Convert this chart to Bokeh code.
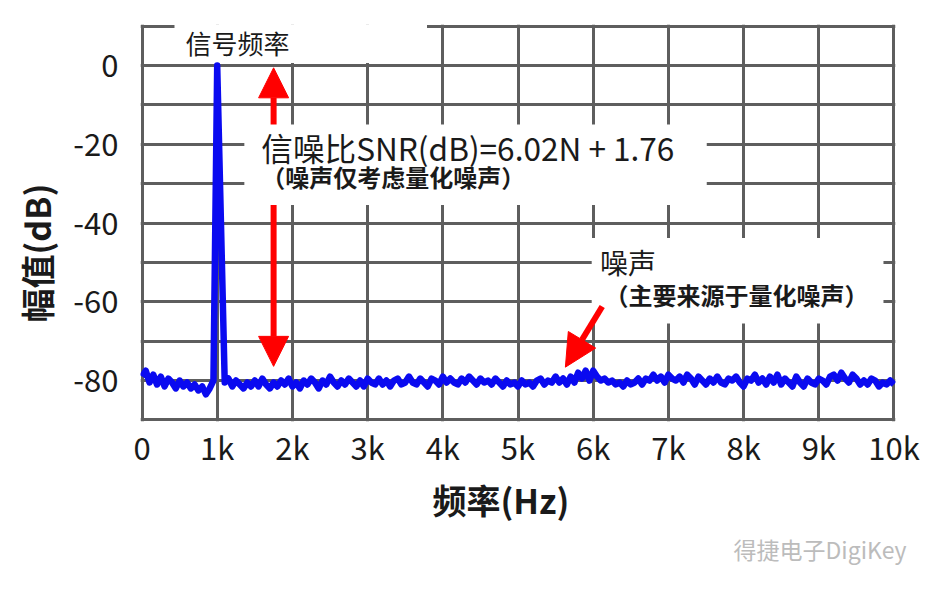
from bokeh.plotting import figure
from bokeh.models import FixedTicker, Label, Arrow, NormalHead, Range1d, Title
from bokeh.embed import file_html
from bokeh.resources import INLINE

# ---------------- data ----------------
freq_hz = list(range(0, 10001, 50))
amplitude_db = (
    [-79.0, -77.5, -80.5, -78.5, -81.0, -79.0, -81.5, -79.5, -80.5, -82.0,
     -80.0, -81.5, -80.5, -82.0, -81.0, -82.5, -81.5, -83.5, -82.0, -80.0]
    + [0.0, -40.0, -80.5]
    + [-79.5, -81.5, -80.0, -81.0, -82.0, -80.5, -81.5, -80.0, -81.5, -79.5,
       -81.0, -82.0, -80.5, -81.5, -80.0, -81.0, -79.5, -81.5, -80.5, -82.0,
       -80.0, -81.0, -79.5, -80.5, -82.0, -80.0, -81.0, -79.0, -80.5, -81.5,
       -80.0, -81.0, -79.5, -80.5, -81.5, -80.0, -81.5, -79.5, -80.5, -81.0,
       -79.5, -81.0, -80.0, -81.5, -80.0, -79.5, -81.0, -80.5, -79.0, -80.5,
       -81.0, -79.5, -80.5, -81.5, -79.5, -80.0, -81.0, -79.0, -80.5, -79.5,
       -80.5, -81.0, -79.5, -80.5, -79.0, -80.0, -81.0, -79.5, -80.5, -80.0,
       -81.0, -79.5, -80.5, -81.5, -80.0, -81.0, -80.5, -81.5, -80.0, -81.0,
       -80.5, -81.5, -80.0, -79.5, -81.0, -80.0, -80.5, -79.0, -80.5, -79.5,
       -81.0, -79.0, -80.5, -78.0, -79.5, -77.5, -80.0, -77.5, -79.0, -80.0,
       -79.5, -80.5, -80.0, -81.0, -80.5, -81.5, -80.0, -81.0, -80.5, -79.5,
       -81.0, -79.5, -80.0, -78.5, -80.0, -79.0, -80.5, -78.5, -79.5, -80.0,
       -79.0, -80.5, -78.5, -79.5, -81.0, -79.0, -80.0, -81.0, -79.5, -80.5,
       -79.0, -80.5, -81.0, -79.5, -80.0, -79.0, -80.5, -81.5, -79.5, -80.0,
       -78.5, -80.5, -79.5, -81.0, -79.0, -80.5, -78.5, -81.0, -79.5, -80.5,
       -81.5, -79.0, -80.5, -81.5, -79.5, -80.5, -81.0, -79.5, -80.0, -81.0,
       -79.0, -78.5, -80.0, -78.0, -79.5, -80.5, -78.5, -79.5, -81.0, -80.0,
       -81.0, -79.5, -80.0, -81.5, -80.5, -81.0, -80.0, -81.0]
)

x_tick_values = [0, 1000, 2000, 3000, 4000, 5000, 6000, 7000, 8000, 9000, 10000]
x_tick_labels = ["0", "1k", "2k", "3k", "4k", "5k", "6k", "7k", "8k", "9k", "10k"]
y_tick_values = [-80, -60, -40, -20, 0]
y_tick_labels = ["-80", "-60", "-40", "-20", "0"]
x_grid_values = x_tick_values
y_grid_values = [-90, -80, -70, -60, -50, -40, -30, -20, -10, 0, 10]

signal_label = "信号频率"
snr_label = "信噪比SNR(dB)=6.02N + 1.76"
snr_note = "（噪声仅考虑量化噪声）"
noise_label = "噪声"
noise_note = "（主要来源于量化噪声）"
x_title = "频率(Hz)"
y_title = "幅值(dB)"
watermark = "得捷电子DigiKey"

FONT = "Noto Sans CJK SC"
GRID = "#5e5e5e"
INK = "#1a1a1a"

p = figure(width=924, height=570, output_backend="svg", toolbar_location=None,
           title=None,
           x_range=Range1d(-20, 10020), y_range=Range1d(-90.4, 10.4),
           min_border_left=133, min_border_right=29,
           min_border_top=24, min_border_bottom=147)
p.background_fill_color = "white"
p.border_fill_color = "white"
p.outline_line_color = None

# grid acts as frame too
p.xgrid.ticker = FixedTicker(ticks=x_grid_values)
p.ygrid.ticker = FixedTicker(ticks=y_grid_values)
for g in (p.xgrid, p.ygrid):
    g.grid_line_color = GRID
    g.grid_line_width = 3

# axes
p.xaxis.ticker = FixedTicker(ticks=x_tick_values)
p.xaxis.major_label_overrides = dict(zip(x_tick_values, x_tick_labels))
p.yaxis.ticker = FixedTicker(ticks=y_tick_values)
p.yaxis.major_label_overrides = dict(zip(y_tick_values, y_tick_labels))
for ax in (p.xaxis, p.yaxis):
    ax.axis_line_color = None
    ax.major_tick_line_color = None
    ax.minor_tick_line_color = None
    ax.major_tick_out = 0
    ax.major_tick_in = 0
    ax.major_label_text_font = FONT
    ax.major_label_text_font_size = "31px"
    ax.major_label_text_color = INK
p.xaxis.major_label_standoff = 2
p.yaxis.major_label_standoff = 22

# axis titles (as titles so they can be placed like the reference)
p.add_layout(Title(text=x_title, align="left", offset=292, standoff=6,
                   vertical_align="top", text_font=FONT, text_font_size="34px",
                   text_font_style="bold", text_color=INK), "below")
p.add_layout(Title(text=y_title, align="left", offset=99, standoff=19,
                   text_font=FONT, text_font_size="34px",
                   text_font_style="bold", text_color=INK), "left")
p.add_layout(Title(text=watermark, align="right", offset=-11, standoff=6,
                   vertical_align="top", text_font=FONT, text_font_size="23px",
                   text_font_style="normal", text_color="#bcbcbc"), "below")

# white boxes behind the annotations
p.quad(left=[432], right=[3790], bottom=[0.65], top=[12],
       fill_color="white", line_color=None)
p.quad(left=[1361], right=[7510], bottom=[-35.45], top=[-15.0],
       fill_color="white", line_color=None)
p.quad(left=[5980], right=[9860], bottom=[-65.5], top=[-43.8],
       fill_color="white", line_color=None)

# red double arrow (behind the SNR box)
arrow1 = Arrow(start=NormalHead(size=30, fill_color="#ff0000", line_color="#ff0000"),
               end=NormalHead(size=30, fill_color="#ff0000", line_color="#ff0000"),
               x_start=1750, y_start=-0.6, x_end=1750, y_end=-76.4,
               line_color="#ff0000", line_width=6, level="underlay")
p.add_layout(arrow1)

# spectrum
p.line(freq_hz, amplitude_db, line_color="#0a0af0", line_width=6.5, line_join="round")

# noise arrow
arrow2 = Arrow(end=NormalHead(size=32, fill_color="#ff0000", line_color="#ff0000"),
               x_start=6120, y_start=-61.2, x_end=5630, y_end=-76.6,
               line_color="#ff0000", line_width=6)
p.add_layout(arrow2)

def add_text(x, y, text, size, style="normal", color=INK):
    p.add_layout(Label(x=x, y=y, text=text, text_font=FONT, text_font_size=size,
                       text_font_style=style, text_color=color,
                       text_align="left", text_baseline="middle"))

add_text(578, 5.8, signal_label, "26px")
add_text(1587, -20.8, snr_label, "31.6px")
add_text(1587, -28.2, snr_note, "24px", "bold")
add_text(6090, -49.85, noise_label, "28px")
add_text(6150, -58.2, noise_note, "24px", "bold")

open("out.html", "w").write(file_html(p, INLINE))
